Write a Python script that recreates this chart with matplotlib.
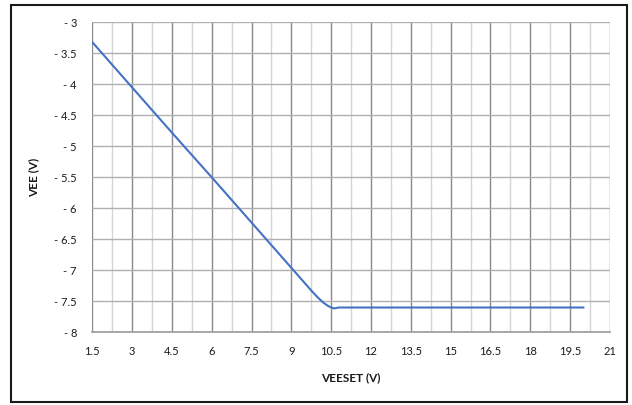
import matplotlib
matplotlib.use('Agg')
import matplotlib.pyplot as plt
from matplotlib.patches import Rectangle
from matplotlib.ticker import MultipleLocator

plt.rcParams['font.family'] = ['Lato', 'DejaVu Sans']

# VEE vs VEESET
veeset = [1.5, 3.0, 4.5, 6.0, 7.5, 9.0, 9.8, 10.0, 10.2, 10.4, 10.6, 10.8,
          12.0, 15.0, 20.0]
vee = [-3.32, -4.05, -4.78, -5.5, -6.23, -6.96, -7.35, -7.44, -7.52, -7.58,
       -7.615, -7.6, -7.6, -7.6, -7.6]

x_ticks = [1.5, 3, 4.5, 6, 7.5, 9, 10.5, 12, 13.5, 15, 16.5, 18, 19.5, 21]
x_tick_labels = ['1.5', '3', '4.5', '6', '7.5', '9', '10.5', '12', '13.5',
                 '15', '16.5', '18', '19.5', '21']
y_ticks = [-8, -7.5, -7, -6.5, -6, -5.5, -5, -4.5, -4, -3.5, -3]
y_tick_labels = ['- 8', '- 7.5', '- 7', '- 6.5', '- 6', '- 5.5', '- 5',
                 '- 4.5', '- 4', '- 3.5', '- 3']

fig = plt.figure(figsize=(6.32, 4.05), dpi=100)
ax = fig.add_axes([0.146, 0.1795, 0.819, 0.7655])

ax.plot(veeset, vee, color='#4472C4', linewidth=1.5, zorder=3)

ax.set_xlim(1.5, 21)
ax.set_ylim(-8, -3)
ax.set_xticks(x_ticks)
ax.set_xticklabels(x_tick_labels)
ax.set_yticks(y_ticks)
ax.set_yticklabels(y_tick_labels)
ax.xaxis.set_minor_locator(MultipleLocator(0.75))

ax.grid(which='major', axis='x', color='#8a8a8a', linewidth=1.0)
ax.grid(which='minor', axis='x', color='#d4d4d4', linewidth=1.0)
ax.grid(which='major', axis='y', color='#b0b0b0', linewidth=1.0)

for s in ['top', 'right', 'left']:
    ax.spines[s].set_visible(False)
ax.spines['bottom'].set_color('#9a9a9a')
ax.spines['bottom'].set_linewidth(1.2)

ax.tick_params(axis='both', which='both', length=0, labelsize=8, colors='#1a1a1a')
ax.tick_params(axis='x', pad=10)
ax.tick_params(axis='y', pad=11)

ax.set_xlabel('VEESET (V)', fontsize=8.5, fontweight='bold', color='#1a1a1a', labelpad=11)
ax.set_ylabel('VEE (V)', fontsize=8.5, fontweight='bold', color='#1a1a1a', labelpad=11)

fig.patches.append(Rectangle((0.017, 0.0074), 0.975, 0.98, transform=fig.transFigure,
                             fill=False, edgecolor='#1a1a1a', linewidth=1.5))

fig.savefig('out.png', dpi=100)
